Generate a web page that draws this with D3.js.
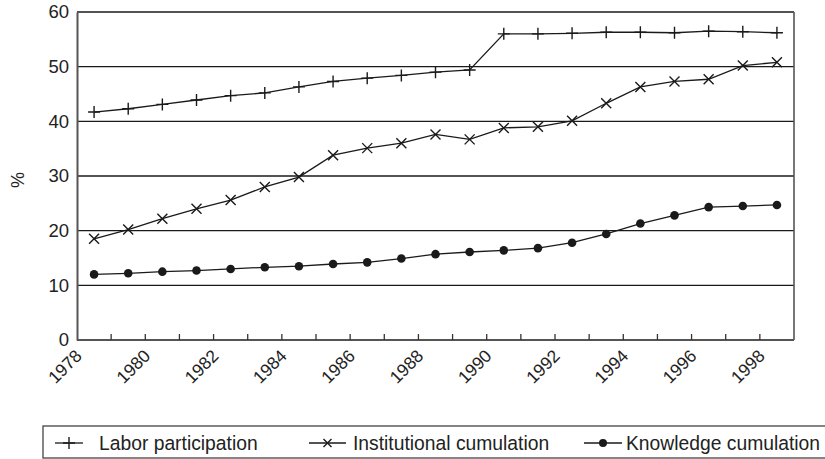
<!DOCTYPE html>
<html><head><meta charset="utf-8">
<script src="https://cdn.jsdelivr.net/npm/d3@7"></script>
<style>body{margin:0;background:#fff;} svg{display:block;font-family:Arial,"Liberation Sans",Helvetica,sans-serif;}</style>
</head><body>
<svg id="c" width="825" height="459"></svg>
<script>
const years = d3.range(1978, 1999).map(String);
const labor = [41.7,42.3,43.1,43.9,44.7,45.2,46.3,47.3,47.9,48.4,49.0,49.4,56.0,56.0,56.1,56.3,56.3,56.2,56.5,56.4,56.2];
const institutional = [18.5,20.2,22.2,24.0,25.6,28.0,29.8,33.8,35.1,36.0,37.6,36.7,38.8,39.0,40.1,43.3,46.3,47.3,47.7,50.2,50.8];
const knowledge = [12.0,12.2,12.5,12.7,13.0,13.3,13.5,13.9,14.2,14.9,15.7,16.1,16.4,16.8,17.8,19.4,21.3,22.8,24.3,24.5,24.7];
const yTicks = [0,10,20,30,40,50,60];
const xLabels = ["1978","1980","1982","1984","1986","1988","1990","1992","1994","1996","1998"];
const seriesNames = ["Labor participation","Institutional cumulation","Knowledge cumulation"];

const svg = d3.select("#c");
const L = 77, R = 794, T = 12, B = 340;
const x = d3.scaleBand().domain(years).range([L, R]).padding(0);
const y = d3.scaleLinear().domain([0, 60]).range([B, T]);
const cx = d => x(d) + x.bandwidth()/2;

// gridlines
svg.append("g").selectAll("line").data(yTicks.filter(v => v > 0)).join("line")
  .attr("x1", L).attr("x2", R).attr("y1", d => y(d)).attr("y2", d => y(d))
  .attr("stroke", "#1a1a1a").attr("stroke-width", 1.4);
// right border
svg.append("line").attr("x1", R).attr("x2", R).attr("y1", T).attr("y2", B)
  .attr("stroke", "#555").attr("stroke-width", 1.6);

// y axis
const yAxis = d3.axisLeft(y).tickValues(yTicks).tickSize(0).tickPadding(8);
const gy = svg.append("g").attr("transform", `translate(${L},0)`).call(yAxis);
gy.select(".domain").attr("stroke", "#555").attr("stroke-width", 2);
gy.selectAll("text").attr("font-size", 18.5).attr("fill", "#222")
  .attr("font-family", "Arial, Liberation Sans, sans-serif");

// x axis
svg.append("line").attr("x1", L).attr("x2", R).attr("y1", B).attr("y2", B)
  .attr("stroke", "#555").attr("stroke-width", 2);
svg.append("g").selectAll("line").data(years.slice(1)).join("line")
  .attr("x1", d => x(d)).attr("x2", d => x(d)).attr("y1", B).attr("y2", B - 6)
  .attr("stroke", "#333").attr("stroke-width", 1.3);
svg.append("g").selectAll("text").data(xLabels).join("text")
  .attr("transform", d => `translate(${x(d) + 6},${B + 17}) rotate(-45)`)
  .attr("text-anchor", "end").attr("font-size", 17.5).attr("fill", "#222")
  .text(d => d);

// y title
svg.append("text").attr("transform", `translate(24,180) rotate(-90)`)
  .attr("text-anchor", "middle").attr("font-size", 18).attr("fill", "#222").text("%");

const lineGen = d3.line().x((d, i) => cx(years[i])).y(d => y(d));
const series = [labor, institutional, knowledge];
series.forEach(s => {
  svg.append("path").datum(s).attr("d", lineGen).attr("fill", "none")
    .attr("stroke", "#1a1a1a").attr("stroke-width", 1.3);
});

function plus(g, px, py, s) {
  g.append("path").attr("d", `M${px - s},${py}H${px + s}M${px},${py - s}V${py + s}`)
    .attr("stroke", "#1a1a1a").attr("stroke-width", 1.4).attr("fill", "none");
}
function cross(g, px, py, s) {
  g.append("path").attr("d", `M${px - s},${py - s}L${px + s},${py + s}M${px - s},${py + s}L${px + s},${py - s}`)
    .attr("stroke", "#1a1a1a").attr("stroke-width", 1.4).attr("fill", "none");
}
function dot(g, px, py, r) {
  g.append("circle").attr("cx", px).attr("cy", py).attr("r", r).attr("fill", "#1a1a1a");
}
const mg = svg.append("g");
labor.forEach((v, i) => plus(mg, cx(years[i]), y(v), 6));
institutional.forEach((v, i) => cross(mg, cx(years[i]), y(v), 5));
knowledge.forEach((v, i) => dot(mg, cx(years[i]), y(v), 4.3));

// legend
const lg = svg.append("g");
lg.append("rect").attr("x", 43).attr("y", 426).attr("width", 790).attr("height", 32)
  .attr("fill", "none").attr("stroke", "#444").attr("stroke-width", 1.3);
const legItems = [
  {x1: 55, x2: 83, tx: 99},
  {x1: 309, x2: 346, tx: 353},
  {x1: 584, x2: 622, tx: 626}
];
legItems.forEach((it, i) => {
  lg.append("line").attr("x1", it.x1).attr("x2", it.x2).attr("y1", 443).attr("y2", 443)
    .attr("stroke", "#1a1a1a").attr("stroke-width", 1.3);
  const mx = (it.x1 + it.x2) / 2;
  if (i === 0) plus(lg, mx, 443, 6);
  else if (i === 1) cross(lg, mx, 443, 4);
  else dot(lg, mx, 443, 4);
  lg.append("text").attr("x", it.tx).attr("y", 450).attr("font-size", 19.3)
    .attr("fill", "#222").text(seriesNames[i]);
});
</script>
</body></html>
